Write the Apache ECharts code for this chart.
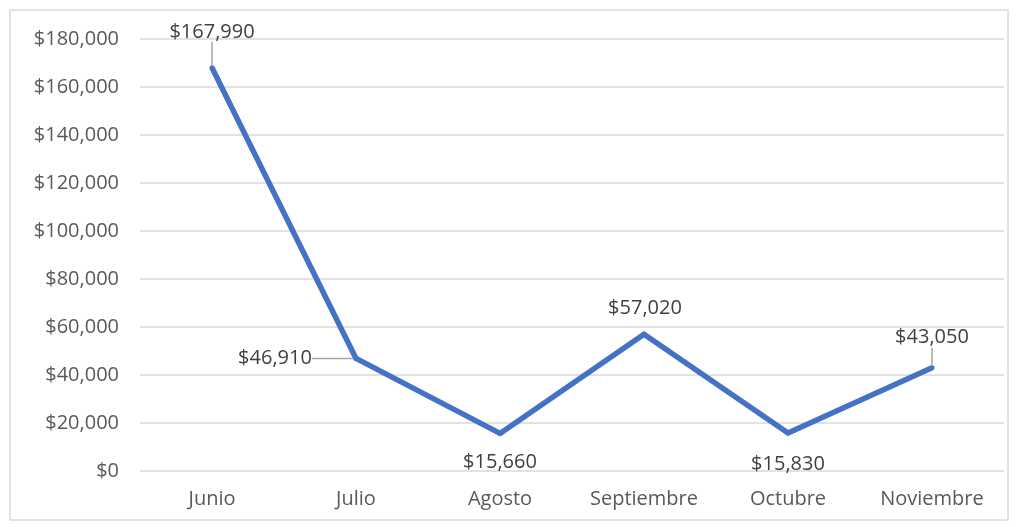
<!DOCTYPE html>
<html>
<head>
<meta charset="utf-8">
<script src="https://cdn.jsdelivr.net/npm/echarts@6/dist/echarts.min.js"></script>
<style>
  html, body { margin: 0; padding: 0; background: #fff; }
  #chart { width: 1021px; height: 527px; }
</style>
</head>
<body>
<div id="chart"></div>
<script>
// meses y ventas
const months = ['Junio', 'Julio', 'Agosto', 'Septiembre', 'Octubre', 'Noviembre']
const sales = [167990, 46910, 15660, 57020, 15830, 43050]

// desplazamiento de cada etiqueta respecto al punto, y si lleva línea guía
const labelShift = [
  [0, -36], [-81, 0], [0, 29], [1, -26], [0, 31], [0, -30]
]
const leader = [true, true, false, false, false, true]

const fmt = v => '$' + v.toLocaleString('en-US')

const chart = echarts.init(document.getElementById('chart'))
chart.setOption({
  animation: false,
  textStyle: { fontFamily: 'Open Sans' },
  graphic: [{
    type: 'rect',
    shape: { x: 10, y: 10, width: 998, height: 510 },
    style: { fill: 'none', stroke: '#d9d9d9', lineWidth: 1.5 },
    z: -1
  }],
  grid: { left: 140, right: 17, top: 39, bottom: 56 },
  xAxis: {
    type: 'category',
    data: months,
    boundaryGap: true,
    axisLine: { show: false },
    axisTick: { show: false },
    axisLabel: { color: '#595959', fontSize: 20, margin: 18 }
  },
  yAxis: {
    type: 'value',
    min: 0,
    max: 180000,
    interval: 20000,
    axisLabel: { color: '#595959', fontSize: 20, margin: 21, formatter: fmt },
    splitLine: { lineStyle: { color: '#d9d9d9', width: 1.5 } }
  },
  series: [{
    type: 'line',
    data: sales.map((v, i) => ({ value: v, labelLine: { show: leader[i] } })),
    symbol: 'circle',
    symbolSize: 5,
    lineStyle: { color: '#4472C4', width: 5.5, join: 'round' },
    itemStyle: { color: '#4472C4' },
    label: {
      show: true,
      position: 'inside',
      color: '#404040',
      fontSize: 20,
      formatter: p => fmt(p.value)
    },
    labelLine: { lineStyle: { color: '#a6a6a6', width: 1.5 } },
    labelLayout: p => ({ dx: labelShift[p.dataIndex][0], dy: labelShift[p.dataIndex][1] })
  }]
})
</script>
</body>
</html>
